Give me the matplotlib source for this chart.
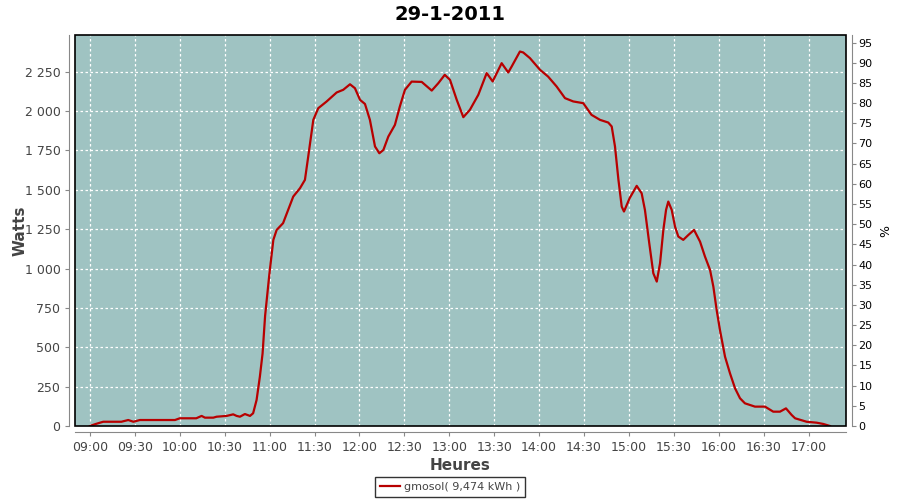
import matplotlib
matplotlib.use('Agg')
import matplotlib.pyplot as plt
from matplotlib.patches import Rectangle

# minutes after 09:00 and power in watts
minutes = [0, 3.3, 6.7, 8.9, 21, 25.6, 29, 33.4, 56.8, 60, 71, 74.6, 76.8, 82.4,
           84.6, 91.3, 95.7, 98, 100.2, 103.5, 106.9, 109, 111.3, 113.5, 115.3,
           117, 119.8, 122.5, 124.7, 129, 135.8, 140.3, 143.6, 145.8, 149.2,
           152.5, 158, 164.8, 169.2, 173.7, 177, 180.4, 183.7, 187, 190.4,
           193.3, 196, 199.3, 203.7, 207, 210.4, 214.9, 221.6, 228.3, 232.7,
           237, 240.5, 245, 249.4, 253.8, 259.4, 265, 269, 275, 279.4, 281.7,
           287.2, 289.4, 293.9, 300.6, 306, 311.7, 317.3, 322.8, 329.5, 335,
           340.7, 346.2, 348.5, 350.7, 353, 355.2, 356.7, 360.5, 365.2, 368.5,
           370.7, 373.6, 376.3, 378.6, 380.8, 383, 384.8, 386.3, 388.6, 390.8,
           393, 396.3, 399.7, 403.5, 407.5, 410.8, 414.2, 416.4, 418.6, 420.8,
           424.2, 427.5, 430.9, 434.2, 437.5, 444.2, 450.9, 456.4, 460.9,
           464.9, 468.7, 471, 478.7, 485.4, 489.8, 494.3]
watts = [0, 11, 21, 27, 27, 38, 27, 38, 38, 49, 49, 64, 53, 53,
         59, 64, 74, 64, 59, 76, 64, 81, 165, 313, 460,
         700, 960, 1182, 1245, 1288, 1457, 1510, 1563, 1711, 1944,
         2018, 2060, 2118, 2135, 2170, 2145, 2071, 2045, 1944, 1775,
         1732, 1753, 1838, 1912, 2029, 2135, 2187, 2185, 2130, 2177,
         2230, 2198, 2071, 1961, 2008, 2103, 2241, 2188, 2304, 2245, 2283,
         2378, 2372, 2336, 2262, 2219, 2156, 2082, 2061, 2050, 1976,
         1944, 1927, 1902, 1775, 1563, 1393, 1362, 1447, 1525, 1478,
         1372, 1160, 970, 917, 1034, 1245, 1372, 1425, 1372, 1266,
         1203, 1182, 1213, 1245, 1171, 1076, 991, 885, 737, 610,
         440, 335, 239, 176, 144, 123, 123, 91, 91,
         112, 70, 49, 27, 21, 13, 0]

tick_minutes = [0, 30, 60, 90, 120, 150, 180, 210, 240, 270, 300, 330, 360,
                390, 420, 450, 480]
tick_labels = ['09:00', '09:30', '10:00', '10:30', '11:00', '11:30', '12:00',
               '12:30', '13:00', '13:30', '14:00', '14:30', '15:00', '15:30',
               '16:00', '16:30', '17:00']
watt_ticks = [0, 250, 500, 750, 1000, 1250, 1500, 1750, 2000, 2250]
watt_labels = ['0', '250', '500', '750', '1 000', '1 250', '1 500', '1 750',
               '2 000', '2 250']
pct_ticks = list(range(0, 100, 5))

bg = '#9fc3c2'
line_col = '#b80000'
grey = '#444444'

fig = plt.figure(figsize=(9, 5), dpi=100)
ax = fig.add_axes([0.0833, 0.148, 0.8567, 0.7814])
ax.set_facecolor(bg)

ax.plot(minutes, watts, color=line_col, lw=1.6, zorder=3)

ax.set_xlim(-10, 505)
ax.set_ylim(0, 2481)
ax.set_xticks(tick_minutes)
ax.set_xticklabels(tick_labels)
ax.set_yticks(watt_ticks)
ax.set_yticklabels(watt_labels)
ax.grid(True, color='white', ls=(0, (2, 2)), lw=0.9)

for s in ['left', 'bottom']:
    ax.spines[s].set_position(('outward', 4))
    ax.spines[s].set_color('#888888')
for s in ['top', 'right']:
    ax.spines[s].set_visible(False)
ax.tick_params(axis='both', colors='#888888', labelcolor=grey, labelsize=9,
               length=3, width=0.8)

# black border of the data area
ax.add_patch(Rectangle((0, 0), 1, 1, transform=ax.transAxes, fill=False,
                       ec='black', lw=1.2, zorder=5, clip_on=False))

ax.set_xlabel('Heures', fontsize=11, fontweight='bold', color=grey, labelpad=3)
ax.set_ylabel('Watts', fontsize=11, fontweight='bold', color=grey)
ax.yaxis.set_label_coords(-0.062, 0.5)

ax2 = ax.twinx()
ax2.set_ylim(0, 96.8)
ax2.set_yticks(pct_ticks)
for s in ['left', 'top', 'bottom']:
    ax2.spines[s].set_visible(False)
ax2.spines['right'].set_position(('outward', 4))
ax2.spines['right'].set_color('#888888')
ax2.tick_params(axis='y', colors='#888888', labelcolor='black', labelsize=8,
                length=3, width=0.8, pad=2)
ax2.set_ylabel('%', fontsize=9, color='black')
ax2.yaxis.set_label_coords(1.043, 0.5)

fig.text(0.5, 0.972, '29-1-2011', ha='center', va='center', fontsize=14,
         fontweight='bold')

leg = ax.legend(['gmosol( 9,474 kWh )'], loc='center',
                bbox_to_anchor=(0.5, 0.026), bbox_transform=fig.transFigure,
                fontsize=8, frameon=True, fancybox=False, handlelength=1.8,
                handletextpad=0.4, borderpad=0.45, borderaxespad=0)
leg.get_frame().set_edgecolor('black')
leg.get_frame().set_linewidth(1.0)
for t in leg.get_texts():
    t.set_color(grey)

fig.savefig('out.png', dpi=100)
